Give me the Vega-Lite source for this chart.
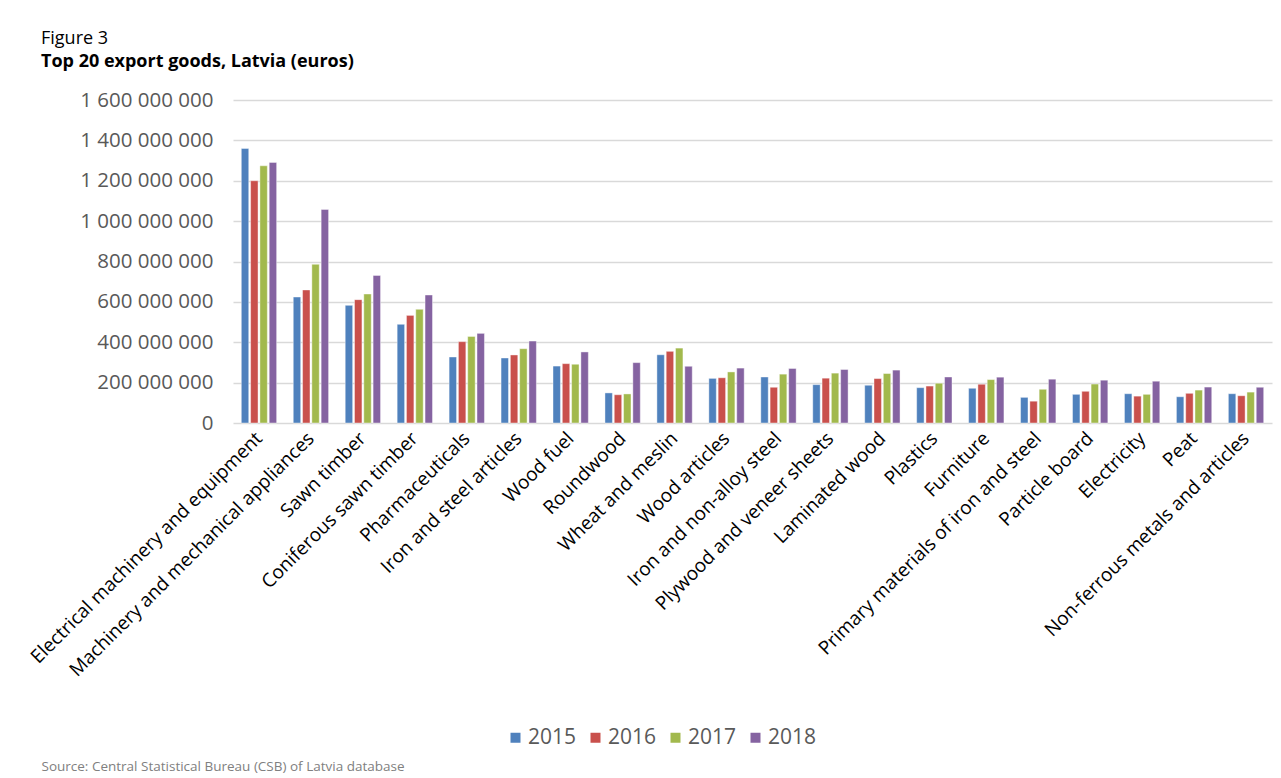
{
  "$schema": "https://vega.github.io/schema/vega-lite/v6.json",
  "autosize": {"type": "none"},
  "padding": {"left": 233, "top": 100, "right": 9, "bottom": 355},
  "width": 1039,
  "height": 323,
  "background": "white",
  "title": {
    "text": "Figure 3",
    "subtitle": "Top 20 export goods, Latvia (euros)",
    "anchor": "start",
    "frame": "group",
    "dx": -192,
    "offset": 19,
    "font": "Open Sans",
    "fontSize": 18,
    "fontWeight": "normal",
    "color": "#000000",
    "subtitleFont": "Open Sans",
    "subtitleFontSize": 18,
    "subtitleFontWeight": "bold",
    "subtitleColor": "#000000",
    "subtitlePadding": 5
  },
  "data": {
    "values": [
      {"good": "Electrical machinery and equipment", "year": "2015", "euros": 1360000000},
      {"good": "Electrical machinery and equipment", "year": "2016", "euros": 1200000000},
      {"good": "Electrical machinery and equipment", "year": "2017", "euros": 1274000000},
      {"good": "Electrical machinery and equipment", "year": "2018", "euros": 1291000000},
      {"good": "Machinery and mechanical appliances", "year": "2015", "euros": 624000000},
      {"good": "Machinery and mechanical appliances", "year": "2016", "euros": 659000000},
      {"good": "Machinery and mechanical appliances", "year": "2017", "euros": 786000000},
      {"good": "Machinery and mechanical appliances", "year": "2018", "euros": 1058000000},
      {"good": "Sawn timber", "year": "2015", "euros": 583000000},
      {"good": "Sawn timber", "year": "2016", "euros": 611000000},
      {"good": "Sawn timber", "year": "2017", "euros": 639000000},
      {"good": "Sawn timber", "year": "2018", "euros": 731000000},
      {"good": "Coniferous sawn timber", "year": "2015", "euros": 489000000},
      {"good": "Coniferous sawn timber", "year": "2016", "euros": 533000000},
      {"good": "Coniferous sawn timber", "year": "2017", "euros": 563000000},
      {"good": "Coniferous sawn timber", "year": "2018", "euros": 634000000},
      {"good": "Pharmaceuticals", "year": "2015", "euros": 327000000},
      {"good": "Pharmaceuticals", "year": "2016", "euros": 403000000},
      {"good": "Pharmaceuticals", "year": "2017", "euros": 429000000},
      {"good": "Pharmaceuticals", "year": "2018", "euros": 444000000},
      {"good": "Iron and steel articles", "year": "2015", "euros": 322000000},
      {"good": "Iron and steel articles", "year": "2016", "euros": 337000000},
      {"good": "Iron and steel articles", "year": "2017", "euros": 368000000},
      {"good": "Iron and steel articles", "year": "2018", "euros": 406000000},
      {"good": "Wood fuel", "year": "2015", "euros": 282000000},
      {"good": "Wood fuel", "year": "2016", "euros": 294000000},
      {"good": "Wood fuel", "year": "2017", "euros": 291000000},
      {"good": "Wood fuel", "year": "2018", "euros": 352000000},
      {"good": "Roundwood", "year": "2015", "euros": 149000000},
      {"good": "Roundwood", "year": "2016", "euros": 140000000},
      {"good": "Roundwood", "year": "2017", "euros": 144000000},
      {"good": "Roundwood", "year": "2018", "euros": 299000000},
      {"good": "Wheat and meslin", "year": "2015", "euros": 338000000},
      {"good": "Wheat and meslin", "year": "2016", "euros": 355000000},
      {"good": "Wheat and meslin", "year": "2017", "euros": 371000000},
      {"good": "Wheat and meslin", "year": "2018", "euros": 281000000},
      {"good": "Wood articles", "year": "2015", "euros": 221000000},
      {"good": "Wood articles", "year": "2016", "euros": 224000000},
      {"good": "Wood articles", "year": "2017", "euros": 253000000},
      {"good": "Wood articles", "year": "2018", "euros": 272000000},
      {"good": "Iron and non-alloy steel", "year": "2015", "euros": 228000000},
      {"good": "Iron and non-alloy steel", "year": "2016", "euros": 177000000},
      {"good": "Iron and non-alloy steel", "year": "2017", "euros": 242000000},
      {"good": "Iron and non-alloy steel", "year": "2018", "euros": 270000000},
      {"good": "Plywood and veneer sheets", "year": "2015", "euros": 190000000},
      {"good": "Plywood and veneer sheets", "year": "2016", "euros": 222000000},
      {"good": "Plywood and veneer sheets", "year": "2017", "euros": 247000000},
      {"good": "Plywood and veneer sheets", "year": "2018", "euros": 265000000},
      {"good": "Laminated wood", "year": "2015", "euros": 187000000},
      {"good": "Laminated wood", "year": "2016", "euros": 220000000},
      {"good": "Laminated wood", "year": "2017", "euros": 245000000},
      {"good": "Laminated wood", "year": "2018", "euros": 262000000},
      {"good": "Plastics", "year": "2015", "euros": 175000000},
      {"good": "Plastics", "year": "2016", "euros": 183000000},
      {"good": "Plastics", "year": "2017", "euros": 197000000},
      {"good": "Plastics", "year": "2018", "euros": 228000000},
      {"good": "Furniture", "year": "2015", "euros": 172000000},
      {"good": "Furniture", "year": "2016", "euros": 192000000},
      {"good": "Furniture", "year": "2017", "euros": 215000000},
      {"good": "Furniture", "year": "2018", "euros": 227000000},
      {"good": "Primary materials of iron and steel", "year": "2015", "euros": 127000000},
      {"good": "Primary materials of iron and steel", "year": "2016", "euros": 108000000},
      {"good": "Primary materials of iron and steel", "year": "2017", "euros": 167000000},
      {"good": "Primary materials of iron and steel", "year": "2018", "euros": 217000000},
      {"good": "Particle board", "year": "2015", "euros": 142000000},
      {"good": "Particle board", "year": "2016", "euros": 157000000},
      {"good": "Particle board", "year": "2017", "euros": 193000000},
      {"good": "Particle board", "year": "2018", "euros": 212000000},
      {"good": "Electricity", "year": "2015", "euros": 145000000},
      {"good": "Electricity", "year": "2016", "euros": 133000000},
      {"good": "Electricity", "year": "2017", "euros": 142000000},
      {"good": "Electricity", "year": "2018", "euros": 207000000},
      {"good": "Peat", "year": "2015", "euros": 130000000},
      {"good": "Peat", "year": "2016", "euros": 147000000},
      {"good": "Peat", "year": "2017", "euros": 163000000},
      {"good": "Peat", "year": "2018", "euros": 178000000},
      {"good": "Non-ferrous metals and articles", "year": "2015", "euros": 145000000},
      {"good": "Non-ferrous metals and articles", "year": "2016", "euros": 135000000},
      {"good": "Non-ferrous metals and articles", "year": "2017", "euros": 153000000},
      {"good": "Non-ferrous metals and articles", "year": "2018", "euros": 177000000}
    ]
  },
  "mark": {"type": "bar", "stroke": "white", "strokeWidth": 0.6, "strokeOpacity": 0.7},
  "encoding": {
    "x": {
      "field": "good",
      "type": "nominal",
      "sort": null,
      "scale": {"paddingInner": 0.32, "paddingOuter": 0.16},
      "axis": {
        "title": "Source: Central Statistical Bureau (CSB) of Latvia database",
        "titleFont": "Open Sans",
        "titleFontSize": 13.5,
        "titleFontWeight": "normal",
        "titleColor": "#808080",
        "titleAnchor": "start",
        "titleAlign": "left",
        "titleBaseline": "alphabetic",
        "titleX": -192,
        "titleY": 347,
        "labelAngle": -45,
        "labelFont": "Open Sans",
        "labelFontSize": 19,
        "labelColor": "#000000",
        "labelBaseline": "middle",
        "labelPadding": 12,
        "labelLimit": 400,
        "labelOverlap": false,
        "domain": false,
        "ticks": false,
        "grid": false
      }
    },
    "xOffset": {
      "field": "year",
      "type": "nominal",
      "scale": {"paddingInner": 0.2, "paddingOuter": 0}
    },
    "y": {
      "field": "euros",
      "type": "quantitative",
      "scale": {"domain": [0, 1600000000], "nice": false},
      "axis": {
        "title": null,
        "values": [0, 200000000, 400000000, 600000000, 800000000, 1000000000, 1200000000, 1400000000, 1600000000],
        "labelExpr": "replace(replace(replace(format(datum.value, ',d'), ',', ' '), ',', ' '), ',', ' ')",
        "labelFont": "Open Sans",
        "labelFontSize": 20.5,
        "labelColor": "#595959",
        "labelPadding": 20,
        "domain": false,
        "ticks": false,
        "grid": true,
        "gridColor": "#d9d9d9",
        "gridWidth": 1.6
      }
    },
    "color": {
      "field": "year",
      "type": "nominal",
      "scale": {"domain": ["2015", "2016", "2017", "2018"], "range": ["#4f81bd", "#c9504c", "#a2b94d", "#8563a1"]},
      "legend": {
        "title": null,
        "orient": "none",
        "direction": "horizontal",
        "legendX": 272,
        "legendY": 627,
        "padding": 0,
        "symbolType": "square",
        "symbolSize": 100,
        "symbolStrokeWidth": 0,
        "labelFont": "Open Sans",
        "labelFontSize": 21,
        "labelColor": "#595959",
        "labelOffset": 2,
        "columnPadding": 8
      }
    }
  },
  "config": {
    "font": "Open Sans",
    "view": {"stroke": null}
  }
}
